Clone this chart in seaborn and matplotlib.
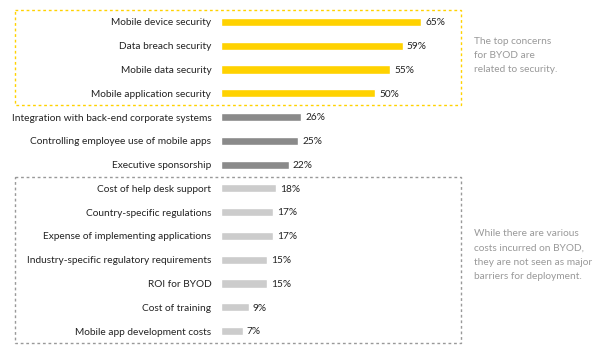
import matplotlib
matplotlib.use("Agg")
import matplotlib.pyplot as plt
import seaborn as sns
import pandas as pd
from matplotlib.patches import Rectangle

categories = [
    "Mobile device security",
    "Data breach security",
    "Mobile data security",
    "Mobile application security",
    "Integration with back-end corporate systems",
    "Controlling employee use of mobile apps",
    "Executive sponsorship",
    "Cost of help desk support",
    "Country-specific regulations",
    "Expense of implementing applications",
    "Industry-specific regulatory requirements",
    "ROI for BYOD",
    "Cost of training",
    "Mobile app development costs",
]
values = [65, 59, 55, 50, 26, 25, 22, 18, 17, 17, 15, 15, 9, 7]
groups = ["security"] * 4 + ["other"] * 3 + ["cost"] * 7
palette = {"security": "#FFD200", "other": "#8A8A8A", "cost": "#CCCCCC"}
note_top = "The top concerns\nfor BYOD are\nrelated to security."
note_bottom = "While there are various\ncosts incurred on BYOD,\nthey are not seen as major\nbarriers for deployment."

df = pd.DataFrame({"category": categories, "value": values, "group": groups})

sns.set_theme(style="white")
plt.rcParams["font.family"] = ["Lato", "DejaVu Sans"]

fig = plt.figure(figsize=(6.0, 3.51), dpi=100)
W, H = 600, 351
ax = fig.add_axes([221 / W, 1 - 342.9 / H, 240 / W, (342.9 - 10.1) / H])

sns.barplot(data=df, y="category", x="value", hue="group", palette=palette,
            dodge=False, width=0.34, legend=False, ax=ax, order=categories,
            saturation=1)

ax.set_xlim(0, 78)
ax.set_ylim(len(categories) - 0.5, -0.5)
ax.set_xlabel("")
ax.set_ylabel("")
ax.set_xticks([])
for s in ax.spines.values():
    s.set_visible(False)
ax.tick_params(axis="y", length=0, pad=7, labelsize=7.3, labelcolor="#222222")

for cont in ax.containers:
    anns = ax.bar_label(cont, labels=[f"{v:.0f}%" for v in cont.datavalues],
                        padding=3, fontsize=7.3, color="#222222")
    for a in anns:
        a.xyann = (3, -0.6)

# dashed boxes
x0 = (15 - 221) / 3.077
ax.add_patch(Rectangle((x0, -0.5), 78 - x0, 4.0, fill=False, ec="#FFD200",
                       lw=1.0, ls=(0, (2, 2)), clip_on=False))
ax.add_patch(Rectangle((x0, 6.5), 78 - x0, 7.0, fill=False, ec="#999999",
                       lw=1.0, ls=(0, (2, 2)), clip_on=False))

fig.text(474 / W, 1 - 55.5 / H, note_top, ha="left", va="center", fontsize=7.3,
         color="#999999", linespacing=1.78)
fig.text(474 / W, 1 - 255 / H, note_bottom, ha="left", va="center",
         fontsize=7.3, color="#999999", linespacing=1.78)

fig.savefig("out.png", dpi=100)
